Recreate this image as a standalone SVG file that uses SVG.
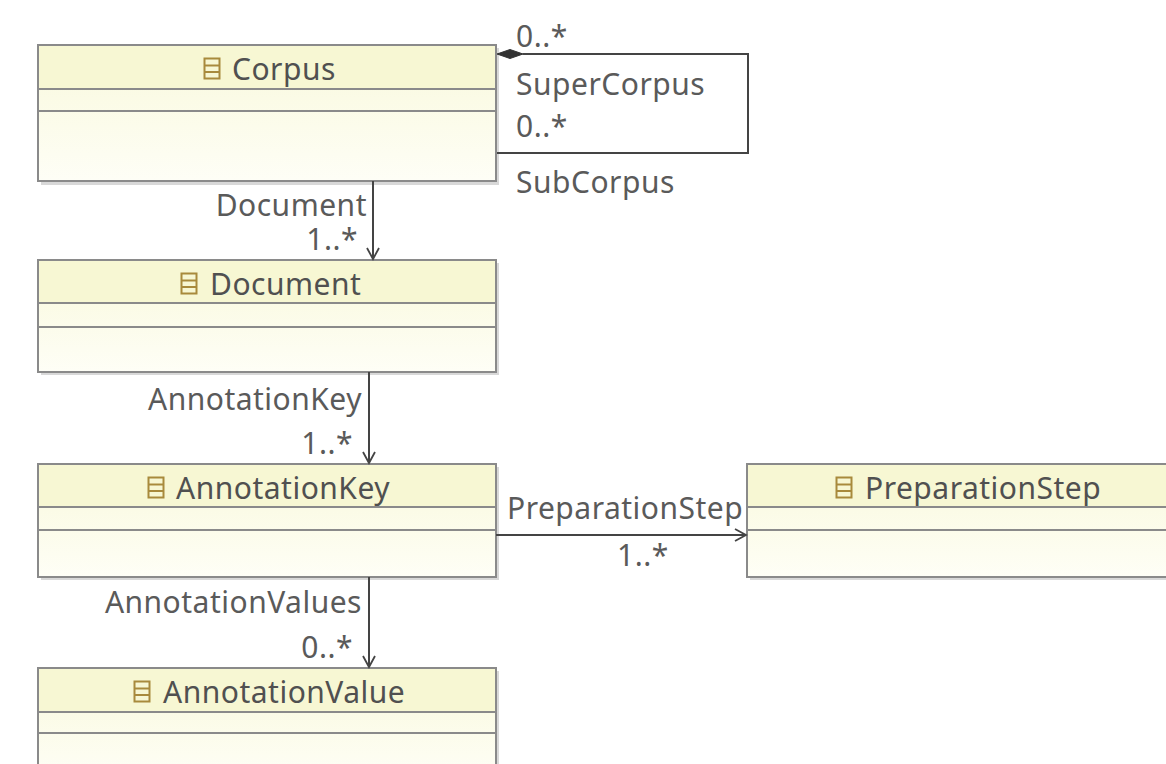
<svg xmlns="http://www.w3.org/2000/svg" width="1166" height="764" viewBox="0 0 1166 764">
<defs>
<linearGradient id="bodyGrad" x1="0" y1="0" x2="0" y2="1">
<stop offset="0" stop-color="#f9f9dc"/>
<stop offset="1" stop-color="#fefef6"/>
</linearGradient>
<marker id="openArrow" markerWidth="14" markerHeight="14" refX="12" refY="7" orient="auto" markerUnits="userSpaceOnUse">
<path d="M1,1 L12,7 L1,13" fill="none" stroke="#444" stroke-width="1.8"/>
</marker>
<g id="icon">
<rect x="0.5" y="0.5" width="15" height="20" fill="none" stroke="#a88a3c" stroke-width="2"/>
<line x1="0.5" y1="7.5" x2="15.5" y2="7.5" stroke="#a88a3c" stroke-width="2"/>
<line x1="0.5" y1="14" x2="15.5" y2="14" stroke="#a88a3c" stroke-width="2"/>
</g>
</defs>
<style>
.box{fill:url(#bodyGrad);stroke:#8a8a8a;stroke-width:2}
.head{fill:#f7f7d3}
.sep{stroke:#8a8a8a;stroke-width:2}
.shadow{fill:#d8d8d8}
.title{font-family:"Noto Sans","Open Sans",sans-serif;font-size:30px;letter-spacing:0.5px;fill:#505050}
.lbl{font-family:"Noto Sans","Open Sans",sans-serif;font-size:30px;letter-spacing:0.5px;fill:#5a5a5a}
.conn{fill:none;stroke:#444;stroke-width:2}
</style>
<rect width="1166" height="764" fill="#ffffff"/>

<g id="Corpus">
<rect class="shadow" x="41" y="48" width="458" height="137"/>
<rect class="box" x="38" y="45" width="458" height="136"/>
<rect class="head" x="39" y="46" width="456" height="43"/>
<line class="sep" x1="38" y1="89" x2="496" y2="89"/>
<line class="sep" x1="38" y1="111" x2="496" y2="111"/>
<use href="#icon" x="204" y="58"/>
<text class="title" x="232" y="80">Corpus</text>
</g>

<g id="Document">
<rect class="shadow" x="41" y="263" width="458" height="112"/>
<rect class="box" x="38" y="260" width="458" height="112"/>
<rect class="head" x="39" y="261" width="456" height="42"/>
<line class="sep" x1="38" y1="303" x2="496" y2="303"/>
<line class="sep" x1="38" y1="327" x2="496" y2="327"/>
<use href="#icon" x="181" y="273"/>
<text class="title" x="210" y="295">Document</text>
</g>

<g id="AnnotationKey">
<rect class="shadow" x="41" y="467" width="458" height="113"/>
<rect class="box" x="38" y="464" width="458" height="113"/>
<rect class="head" x="39" y="465" width="456" height="42"/>
<line class="sep" x1="38" y1="507" x2="496" y2="507"/>
<line class="sep" x1="38" y1="530" x2="496" y2="530"/>
<use href="#icon" x="148" y="477"/>
<text class="title" x="176" y="499">AnnotationKey</text>
</g>

<g id="PreparationStep">
<rect class="shadow" x="750" y="467" width="440" height="113"/>
<rect class="box" x="747" y="464" width="440" height="113"/>
<rect class="head" x="748" y="465" width="438" height="42"/>
<line class="sep" x1="747" y1="507" x2="1187" y2="507"/>
<line class="sep" x1="747" y1="530" x2="1187" y2="530"/>
<use href="#icon" x="836" y="477"/>
<text class="title" x="865" y="499">PreparationStep</text>
</g>

<g id="AnnotationValue">
<rect class="shadow" x="41" y="671" width="458" height="110"/>
<rect class="box" x="38" y="668" width="458" height="110"/>
<rect class="head" x="39" y="669" width="456" height="43"/>
<line class="sep" x1="38" y1="712" x2="496" y2="712"/>
<line class="sep" x1="38" y1="733" x2="496" y2="733"/>
<use href="#icon" x="134" y="681"/>
<text class="title" x="163" y="703">AnnotationValue</text>
</g>

<g id="connectors">
<path class="conn" d="M523,54 L748,54 L748,153 L497,153"/>
<path d="M497,54 L510,49.5 L523,54 L510,58.5 Z" fill="#333" stroke="#333" stroke-width="1"/>
<path class="conn" d="M373,181 L373,259" marker-end="url(#openArrow)"/>
<path class="conn" d="M369,372 L369,463" marker-end="url(#openArrow)"/>
<path class="conn" d="M369,577 L369,667" marker-end="url(#openArrow)"/>
<path class="conn" d="M496,535 L746,535" marker-end="url(#openArrow)"/>
</g>

<g id="labels">
<text class="lbl" x="516" y="47">0..*</text>
<text class="lbl" x="516" y="95">SuperCorpus</text>
<text class="lbl" x="516" y="137">0..*</text>
<text class="lbl" x="516" y="193">SubCorpus</text>
<text class="lbl" x="367" y="216" text-anchor="end">Document</text>
<text class="lbl" x="358" y="250" text-anchor="end">1..*</text>
<text class="lbl" x="362" y="410" text-anchor="end">AnnotationKey</text>
<text class="lbl" x="353" y="454" text-anchor="end">1..*</text>
<text class="lbl" x="507" y="519">PreparationStep</text>
<text class="lbl" x="617" y="566">1..*</text>
<text class="lbl" x="362" y="613" text-anchor="end">AnnotationValues</text>
<text class="lbl" x="353" y="658" text-anchor="end">0..*</text>
</g>
</svg>
